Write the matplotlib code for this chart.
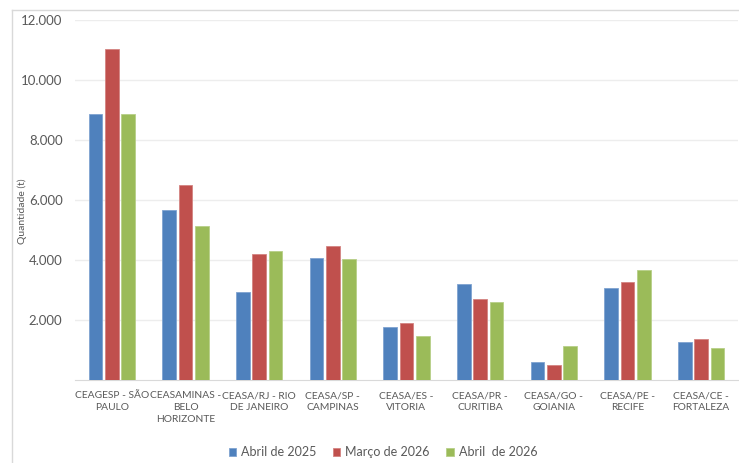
import matplotlib
matplotlib.use("Agg")
import matplotlib.pyplot as plt
import numpy as np
from matplotlib.lines import Line2D

categories = ["CEAGESP - SÃO\nPAULO", "CEASAMINAS -\nBELO\nHORIZONTE", "CEASA/RJ - RIO\nDE JANEIRO",
              "CEASA/SP -\nCAMPINAS", "CEASA/ES -\nVITORIA", "CEASA/PR -\nCURITIBA",
              "CEASA/GO -\nGOIANIA", "CEASA/PE -\nRECIFE", "CEASA/CE -\nFORTALEZA"]
series_names = ["Abril de 2025", "Março de 2026", "Abril  de 2026"]
abril_2025 = [8870, 5660, 2920, 4060, 1770, 3200, 590, 3060, 1270]
marco_2026 = [11040, 6490, 4190, 4480, 1890, 2710, 510, 3260, 1360]
abril_2026 = [8870, 5140, 4300, 4020, 1460, 2610, 1130, 3660, 1070]
yticks = [2000, 4000, 6000, 8000, 10000, 12000]
ytick_labels = ["2.000", "4.000", "6.000", "8.000", "10.000", "12.000"]

colors = ["#4F81BD", "#C0504D", "#9BBB59"]
edges = ["#7FA3D1", "#D48482", "#B7CF88"]

plt.rcParams['font.family'] = ['Lato', 'DejaVu Sans']
W, H = 739, 463
fig = plt.figure(figsize=(W / 100, H / 100), dpi=100)
ax = fig.add_axes([75 / W, 1 - 380 / H, (738 - 75) / W, 360 / H])

x = np.arange(len(categories))
off = 0.222
wd = 0.185
for i, vals in enumerate([abril_2025, marco_2026, abril_2026]):
    ax.bar(x + (i - 1) * off, vals, width=wd, color=colors[i], edgecolor=edges[i],
           linewidth=0.6, label=series_names[i], zorder=3)

ax.set_xlim(-0.5, len(categories) - 0.5)
ax.set_ylim(0, 12000)
ax.set_yticks(yticks)
ax.set_yticklabels(ytick_labels, fontsize=9.5, color="#595959")
ax.set_xticks(x)
ax.set_xticklabels(categories, fontsize=7.4, color="#595959", linespacing=1.4)
ax.tick_params(length=0)
ax.tick_params(axis='x', pad=8)
ax.tick_params(axis='y', pad=9)
ax.grid(axis='y', color="#EDEDED", linewidth=1, zorder=0)
for s in ["top", "right", "left"]:
    ax.spines[s].set_visible(False)
ax.spines["bottom"].set_color("#D9D9D9")
ax.set_ylabel("Quantidade (t)", fontsize=7.5, color="#595959")
ax.yaxis.set_label_coords(-0.072, 0.47)

# outer chart border (left and top)
fig.add_artist(Line2D([12 / W, 12 / W], [0, 1 - 10 / H], transform=fig.transFigure,
                      color="#D9D9D9", linewidth=1))
fig.add_artist(Line2D([12 / W, 1], [1 - 10 / H, 1 - 10 / H], transform=fig.transFigure,
                      color="#D9D9D9", linewidth=1))

fig.legend(loc="center", bbox_to_anchor=(383 / W, 1 - 452 / H), ncol=3, frameon=False,
           fontsize=9, handlelength=0.6, handleheight=0.6, handletextpad=0.4,
           columnspacing=1.3, labelcolor="#595959")

fig.savefig("out.png", dpi=100, facecolor="white")
